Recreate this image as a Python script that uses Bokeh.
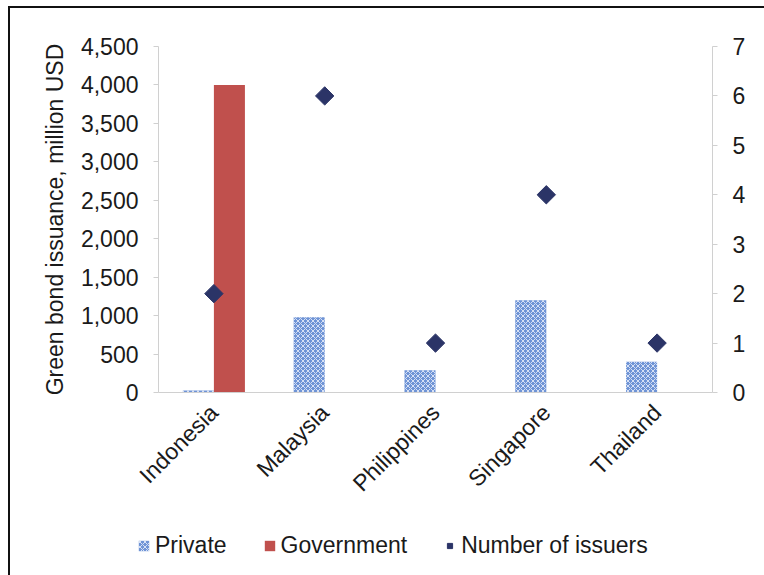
from math import pi
from bokeh.plotting import figure
from bokeh.layouts import column
from bokeh.models import (ColumnDataSource, FactorRange, Range1d, LinearAxis, FixedTicker,
                          NumeralTickFormatter, Legend, LegendItem)
from bokeh.transform import dodge
from bokeh.embed import file_html
from bokeh.resources import INLINE

countries = ["Indonesia", "Malaysia", "Philippines", "Singapore", "Thailand"]
private = [25, 980, 290, 1200, 400]
government = [4000, 0, 0, 0, 0]
issuers = [2, 6, 1, 4, 1]
left_ticks = [0, 500, 1000, 1500, 2000, 2500, 3000, 3500, 4000, 4500]
right_ticks = [0, 1, 2, 3, 4, 5, 6, 7]
series_names = ["Private", "Government", "Number of issuers"]

src = ColumnDataSource(dict(country=countries, private=private,
                            government=government, issuers=issuers))

FONT = "Liberation Sans"
TXT = "#1a1a1a"
AX = "#d0d0d0"
FS = "23px"

PRIV = dict(fill_color="#6f94d6", line_color=None, hatch_pattern="diagonal_cross",
            hatch_color="#e3eaf8", hatch_scale=5, hatch_weight=0.9)
GOV = dict(fill_color="#c0504d", line_color=None)
ISS = dict(marker="square", angle=pi / 4, size=13, fill_color="#2b3467", line_color="#2b3467")

p = figure(x_range=FactorRange(*countries), y_range=Range1d(0, 4500),
           width=756, height=512, output_backend="svg", toolbar_location=None,
           frame_width=554, frame_height=346,
           min_border_left=148, min_border_right=54, min_border_top=38, min_border_bottom=128)
p.extra_y_ranges = {"n": Range1d(0, 7)}
p.outline_line_color = None
p.xgrid.grid_line_color = None
p.ygrid.grid_line_color = None
p.x_range.range_padding = 0

p.vbar(x=dodge("country", -0.14, range=p.x_range), top="private", width=0.28, source=src, **PRIV)
p.vbar(x=dodge("country", 0.14, range=p.x_range), top="government", width=0.28, source=src, **GOV)
p.scatter(x="country", y="issuers", source=src, y_range_name="n", **ISS)

# left axis
ya = p.yaxis[0]
ya.ticker = FixedTicker(ticks=left_ticks)
ya.formatter = NumeralTickFormatter(format="0,0")
ya.axis_label = "Green bond issuance, million USD"
ya.axis_label_text_font = FONT
ya.axis_label_text_font_size = FS
ya.axis_label_text_font_style = "normal"
ya.axis_label_text_color = TXT
ya.axis_label_standoff = 10
ya.major_label_text_font = FONT
ya.major_label_text_font_size = FS
ya.major_label_text_color = TXT
ya.axis_line_color = AX
ya.major_tick_line_color = AX
ya.major_tick_out = 5
ya.major_tick_in = 0
ya.minor_tick_line_color = None
ya.major_label_standoff = 15

# right axis
ra = LinearAxis(y_range_name="n", ticker=FixedTicker(ticks=right_ticks))
ra.major_label_text_font = FONT
ra.major_label_text_font_size = FS
ra.major_label_text_color = TXT
ra.axis_line_color = AX
ra.major_tick_line_color = AX
ra.major_tick_out = 5
ra.major_tick_in = 0
ra.minor_tick_line_color = None
ra.major_label_standoff = 15
p.add_layout(ra, "right")

# x axis
xa = p.xaxis[0]
xa.major_label_orientation = pi / 4
xa.major_label_text_font = FONT
xa.major_label_text_font_size = FS
xa.major_label_text_color = TXT
xa.axis_line_color = AX
xa.major_tick_line_color = None
xa.major_label_standoff = 10

# legend strip (separate figure so the legend is not clipped);
# its renderers use the same data but the y range keeps them out of view
lf = figure(width=756, height=55, frame_width=756, frame_height=55,
            x_range=FactorRange(*countries), y_range=Range1d(10000, 10001),
            output_backend="svg", toolbar_location=None,
            x_axis_type=None, y_axis_type=None,
            min_border_left=0, min_border_right=0, min_border_top=0, min_border_bottom=0)
lf.outline_line_color = None
lf.xgrid.grid_line_color = None
lf.ygrid.grid_line_color = None
l1 = lf.vbar(x="country", top="private", width=0.28, source=src, **PRIV)
l2 = lf.vbar(x="country", top="government", width=0.28, source=src, **GOV)
l3 = lf.scatter(x="country", y="issuers", source=src, **ISS)

legend = Legend(items=[LegendItem(label=series_names[0], renderers=[l1]),
                       LegendItem(label=series_names[1], renderers=[l2]),
                       LegendItem(label=series_names[2], renderers=[l3])],
                orientation="horizontal", location=(127, 16),
                label_text_font=FONT, label_text_font_size="23px", label_text_color=TXT,
                glyph_width=13, glyph_height=13, label_standoff=5, spacing=36,
                padding=0, margin=0, border_line_color=None, background_fill_alpha=0)
lf.add_layout(legend, "center")

layout = column(p, lf, spacing=0,
                styles={"border-top": "2px solid #111", "border-left": "2px solid #111",
                        "margin-left": "8px", "margin-top": "6px"})

open("out.html", "w").write(file_html(layout, INLINE))
